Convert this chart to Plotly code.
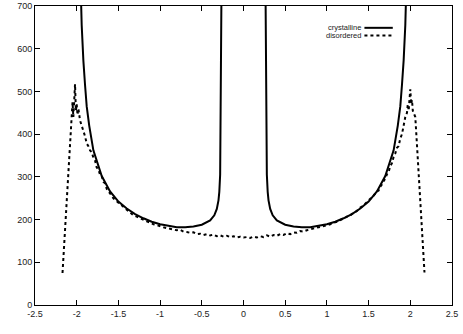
import plotly.graph_objects as go

# crystalline DOS, positive-energy branch (mirrored for E<0)
cryst_x = [0.258, 0.262, 0.266, 0.27, 0.275, 0.28, 0.29, 0.30, 0.32, 0.35,
           0.40, 0.45, 0.50, 0.60, 0.70, 0.80, 0.90, 1.00, 1.10, 1.20,
           1.30, 1.40, 1.50, 1.60, 1.70, 1.76, 1.80, 1.85, 1.88, 1.90,
           1.92, 1.94, 1.95, 1.96]
cryst_y = [900, 750, 560, 430, 350, 305, 265, 245, 225, 210,
           198, 192, 188, 184, 182, 182, 185, 189, 195, 203,
           213, 226, 242, 266, 302, 338, 362, 420, 465, 515,
           572, 655, 715, 800]

# disordered DOS
dis_x = [-2.17, -2.14, -2.10, -2.08, -2.06, -2.05, -2.04, -2.03, -2.02, -2.01,
         -2.00, -1.99, -1.98, -1.96, -1.94, -1.92, -1.90, -1.88, -1.86, -1.84,
         -1.82, -1.80, -1.78, -1.76, -1.74, -1.72, -1.70, -1.68, -1.66, -1.64,
         -1.60, -1.56, -1.52, -1.48, -1.44, -1.40,
         -1.36, -1.32, -1.28, -1.24, -1.20, -1.16, -1.12, -1.08, -1.04, -1.00,
         -0.96, -0.92, -0.88, -0.84, -0.80, -0.76, -0.72, -0.68, -0.64, -0.60,
         -0.56, -0.52, -0.48, -0.44, -0.40, -0.36, -0.32, -0.28, -0.24, -0.20,
         -0.16, -0.12, -0.08, -0.04, 0.00, 0.04, 0.08, 0.12, 0.16, 0.20,
         0.24, 0.28, 0.32, 0.36, 0.40, 0.44, 0.48, 0.52, 0.56, 0.60,
         0.64, 0.68, 0.72, 0.76, 0.80, 0.84, 0.88, 0.92, 0.96, 1.00,
         1.04, 1.08, 1.12, 1.16, 1.20, 1.24, 1.28, 1.32, 1.36, 1.40,
         1.44, 1.48, 1.52, 1.56, 1.60, 1.62, 1.64, 1.66, 1.68, 1.70,
         1.72, 1.74, 1.76, 1.78, 1.80, 1.82, 1.84, 1.86, 1.88, 1.90,
         1.92, 1.94, 1.96, 1.97, 1.98, 1.99, 2.00, 2.01, 2.02, 2.03,
         2.04, 2.06, 2.08, 2.10, 2.12, 2.14, 2.17]
dis_y = [75, 180, 320, 385, 450, 475, 440, 470, 517, 455,
         470, 445, 460, 432, 420, 405, 395, 378, 372, 362,
         358, 345, 338, 322, 318, 305, 302, 288, 285, 272,
         262, 250, 243, 236, 229, 222,
         217, 210, 207, 203, 199, 196, 193, 189, 187, 184,
         182, 180, 178, 177, 175, 176, 172, 171, 169, 170,
         166, 167, 164, 166, 163, 165, 161, 163, 160, 162,
         159, 161, 158, 160, 158, 159, 157, 160, 158, 161,
         159, 163, 160, 164, 162, 166, 164, 168, 166, 170,
         169, 173, 172, 175, 177, 178, 181, 182, 185, 187,
         189, 193, 195, 199, 202, 207, 210, 216, 220, 228,
         233, 241, 248, 256, 266, 268, 277, 282, 290, 296,
         306, 312, 325, 332, 347, 355, 368, 372, 390, 400,
         420, 440, 450, 470, 455, 475, 505, 470, 480, 455,
         450, 440, 375, 310, 250, 180, 76]

x_ticks = [-2.5, -2, -1.5, -1, -0.5, 0, 0.5, 1, 1.5, 2, 2.5]
x_labels = ["-2.5", "-2", "-1.5", "-1", "-0.5", "0", "0.5", "1", "1.5", "2", "2.5"]
y_ticks = [0, 100, 200, 300, 400, 500, 600, 700]

cx = [-v for v in cryst_x] + [None] + cryst_x
cy = cryst_y + [None] + cryst_y

fig = go.Figure()
fig.add_trace(go.Scatter(x=cx, y=cy, mode='lines', name='crystalline',
                         line=dict(color='black', width=2), connectgaps=False))
fig.add_trace(go.Scatter(x=dis_x, y=dis_y, mode='lines', name='disordered',
                         line=dict(color='black', width=2, dash='dot')))

axis = dict(showline=True, mirror='ticks', linecolor='black', linewidth=1,
            ticks='inside', ticklen=5, tickcolor='black', showgrid=False,
            zeroline=False, automargin=False,
            tickfont=dict(family='Liberation Sans', size=9, color='#222'))

fig.update_layout(
    width=463, height=334,
    margin=dict(l=35, r=11, t=6, b=29),
    plot_bgcolor='white', paper_bgcolor='white',
    showlegend=False,
    xaxis=dict(axis, range=[-2.5, 2.5], tickvals=x_ticks, ticktext=x_labels),
    yaxis=dict(axis, range=[0, 700], tickvals=y_ticks),
)

# gnuplot-style key: text on the left, line sample on the right
for i, (name, dash) in enumerate([('crystalline', 'solid'), ('disordered', 'dot')]):
    yk = 0.927 - i * 0.026
    fig.add_annotation(x=0.784, y=yk, xref='paper', yref='paper', text=name,
                       showarrow=False, xanchor='right', yanchor='middle',
                       borderpad=0,
                       font=dict(family='Liberation Sans', size=7.5, color='#222'))
    fig.add_shape(type='line', xref='paper', yref='paper', x0=0.79, x1=0.858,
                  y0=yk, y1=yk, line=dict(color='black', width=2, dash=dash))

fig.write_html("out.html", config={'displayModeBar': False},
               post_script="document.body.style.margin='0';")
